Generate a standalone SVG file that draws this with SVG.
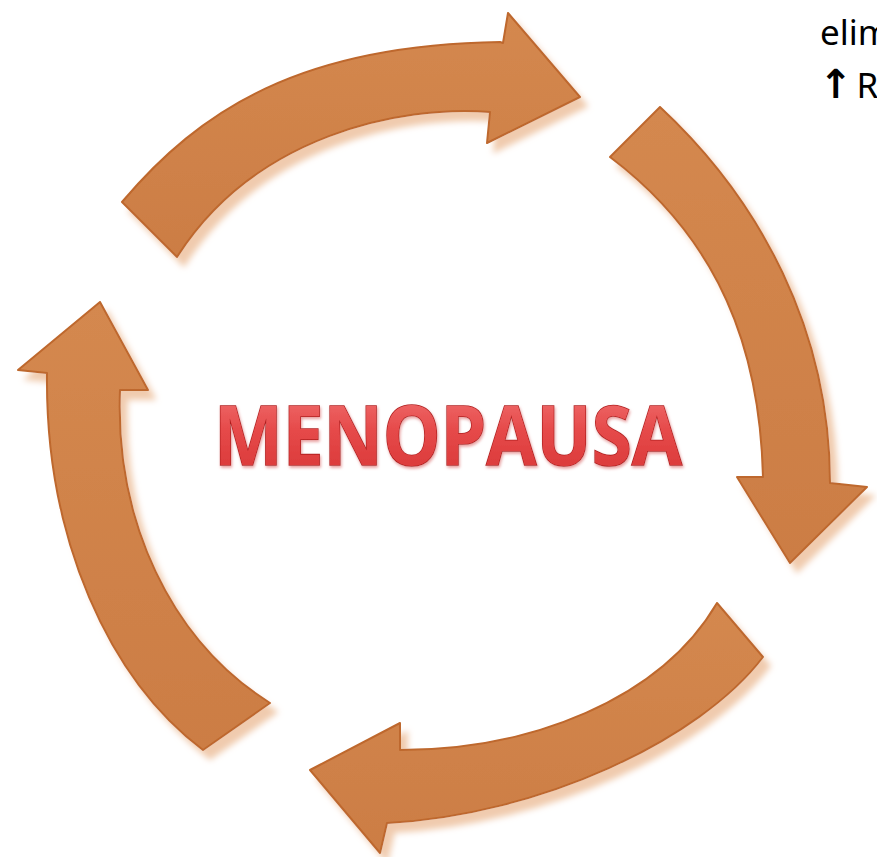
<svg xmlns="http://www.w3.org/2000/svg" width="877" height="857" viewBox="0 0 877 857">
<style>
.arrow{fill:url(#arrowGrad);stroke:#BE682D;stroke-width:2;stroke-linejoin:round;filter:url(#shadow)}
.title{font-family:"Open Sans","Liberation Sans",sans-serif;font-weight:bold;font-size:82px;fill:url(#redGrad);stroke:#B01E1E;stroke-width:1.6;paint-order:stroke}
.note{font-family:"Noto Sans","Liberation Sans",sans-serif;font-size:35px;fill:#000}
</style>
<defs>
<linearGradient id="arrowGrad" x1="0" y1="0" x2="0" y2="1">
<stop offset="0" stop-color="#D4884F"/>
<stop offset="1" stop-color="#CC7D44"/>
</linearGradient>
<linearGradient id="redGrad" x1="0" y1="0" x2="0" y2="1">
<stop offset="0" stop-color="#F47A7A"/>
<stop offset="0.5" stop-color="#E54848"/>
<stop offset="1" stop-color="#D63434"/>
</linearGradient>
<filter id="shadow" x="-20%" y="-20%" width="140%" height="140%">
<feOffset in="SourceAlpha" dx="7" dy="9" result="off"/>
<feGaussianBlur in="off" stdDeviation="3" result="blur"/>
<feFlood flood-color="#F0CBAE"/>
<feComposite in2="blur" operator="in" result="sh"/>
<feMerge><feMergeNode in="sh"/><feMergeNode in="SourceGraphic"/></feMerge>
</filter>
<filter id="textShadow" x="-5%" y="-20%" width="110%" height="140%">
<feOffset in="SourceAlpha" dx="1" dy="2" result="o"/>
<feGaussianBlur in="o" stdDeviation="1.5" result="b"/>
<feFlood flood-color="#E8A0A0"/>
<feComposite in2="b" operator="in" result="s"/>
<feMerge><feMergeNode in="s"/><feMergeNode in="SourceGraphic"/></feMerge>
</filter>
</defs>
<rect width="877" height="857" fill="#FFFFFF"/>
<g id="connectors">
<g id="arrow-top">
<path class="arrow" d="M122,202 C200,110 300,45 500,42 L503,43 L508,13 L580,97 L487,143 L490,112 C400,105 255,135 177,257 Z"/>
</g>
<g id="arrow-right">
<path class="arrow" d="M660,107 C760,200 830,330 830,483 L867,487 L790,563 L737,477 L763,477 C760,350 720,240 610,157 Z"/>
</g>
<g id="arrow-bottom">
<path class="arrow" d="M717,603 L763,657 C700,740 540,815 387,823 L380,853 L310,770 L400,723 L400,750 C530,750 660,700 717,603 Z"/>
</g>
<g id="arrow-left">
<path class="arrow" d="M100,302 L148,390 L120,390 C115,520 170,640 270,703 L203,750 C110,680 45,540 47,373 L18,370 Z"/>
</g>
</g>
<g id="center">
<text class="title" x="448" y="465" text-anchor="middle" textLength="468" lengthAdjust="spacingAndGlyphs" filter="url(#textShadow)">MENOPAUSA</text>
</g>
<g id="note">
<text class="note" x="820" y="45">elim</text>
<text class="note" x="819" y="98"><tspan font-family="DejaVu Sans" font-weight="bold" font-size="40" dx="0">↑</tspan><tspan dx="4">R</tspan></text>
</g>
</svg>
